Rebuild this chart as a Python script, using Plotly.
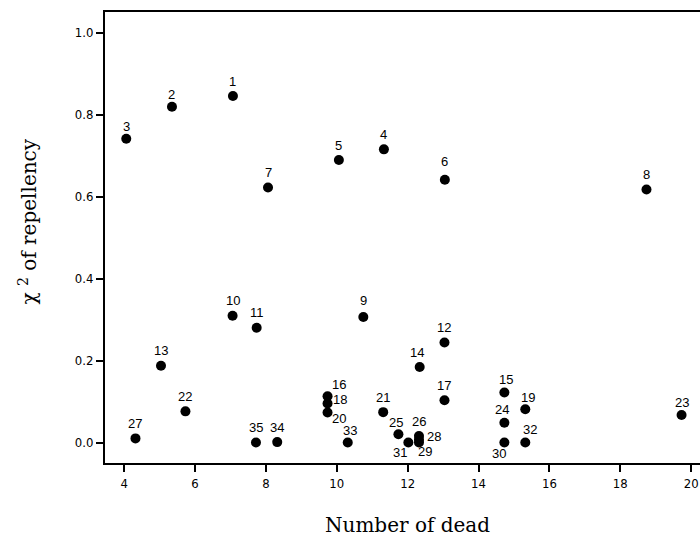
import plotly.graph_objects as go

# Data
point_ids = [str(i) for i in range(1, 36)]
number_of_dead = [7.07, 5.35, 4.06, 11.33, 10.06, 13.05, 8.06, 18.74, 10.75, 7.06,
                  7.74, 13.04, 5.04, 12.34, 14.73, 9.74, 13.04, 9.74, 15.32, 9.74,
                  11.31, 5.73, 19.73, 14.73, 11.74, 12.32, 4.32, 12.32, 12.32, 14.73,
                  12.02, 15.32, 10.31, 8.32, 7.72]
chi2_repellency = [0.845, 0.819, 0.741, 0.715, 0.689, 0.641, 0.622, 0.617, 0.306, 0.309,
                   0.280, 0.244, 0.187, 0.184, 0.122, 0.113, 0.103, 0.095, 0.081, 0.073,
                   0.074, 0.076, 0.067, 0.048, 0.020, 0.016, 0.010, 0.007, 0.000, 0.000,
                   0.000, 0.000, 0.000, 0.001, 0.000]
x_ticks = [4, 6, 8, 10, 12, 14, 16, 18, 20]
y_ticks = [0.0, 0.2, 0.4, 0.6, 0.8, 1.0]

# label placement styles (pixel offsets: xshift, yshift, xanchor)
default_offset = (0, 15, "center")
label_offsets = {
    "2": (0, 12, "center"),
    "3": (0, 12, "center"),
    "16": (2, 12, "left"),
    "18": (3, 4, "left"),
    "20": (2, -6, "left"),
    "33": (2, 12, "center"),
    "25": (-2, 12, "center"),
    "26": (0, 14, "center"),
    "28": (6, 3, "left"),
    "31": (-8, -10, "center"),
    "29": (6, -9, "center"),
    "30": (-5, -11, "center"),
    "24": (-2, 13, "center"),
    "15": (2, 13, "center"),
    "19": (3, 12, "center"),
    "32": (5, 13, "center"),
    "14": (-3, 15, "center"),
    "6": (0, 18, "center"),
    "9": (0, 17, "center"),
    "23": (0, 13, "center"),
}

fig = go.Figure()
fig.add_trace(go.Scatter(
    x=number_of_dead, y=chi2_repellency, mode="markers",
    marker=dict(color="black", size=10),
    hoverinfo="text", text=point_ids, showlegend=False,
))

annotations = []
for pid, xv, yv in zip(point_ids, number_of_dead, chi2_repellency):
    dx, dy, anchor = label_offsets.get(pid, default_offset)
    annotations.append(dict(
        x=xv, y=yv, xref="x", yref="y", text=pid, showarrow=False,
        xshift=dx, yshift=dy, xanchor=anchor, yanchor="middle",
        font=dict(family="Liberation Sans, Arial, sans-serif", size=13, color="black"),
    ))

title_font = dict(family="DejaVu Serif, Century Schoolbook, serif", size=20, color="black")
annotations.append(dict(
    x=0.508, y=-0.138, xref="paper", yref="paper", text="Number of dead",
    showarrow=False, xanchor="center", yanchor="middle", font=title_font,
))
annotations.append(dict(
    x=-0.129, y=0.536, xref="paper", yref="paper", text="χ <sup>2</sup> of repellency",
    showarrow=False, xanchor="center", yanchor="middle", textangle=-90, font=title_font,
))

tick_font = dict(family="Liberation Sans Narrow, DejaVu Sans Condensed, Arial Narrow, sans-serif",
                 size=13, color="black")

fig.update_layout(
    width=700, height=537,
    margin=dict(l=105, r=0, t=12, b=74),
    plot_bgcolor="white", paper_bgcolor="white",
    annotations=annotations,
    xaxis=dict(
        range=[3.46, 20.25], tickvals=x_ticks, ticktext=[str(v) for v in x_ticks],
        showgrid=False, zeroline=False, showline=True, linecolor="black", linewidth=2,
        mirror=True, ticks="outside", ticklen=7, tickwidth=1.5, tickcolor="black",
        tickfont=tick_font, automargin=False,
    ),
    yaxis=dict(
        range=[-0.05, 1.05], tickvals=y_ticks, ticktext=[f"{v:.1f}" for v in y_ticks],
        showgrid=False, zeroline=False, showline=True, linecolor="black", linewidth=2,
        ticks="outside", ticklen=7, tickwidth=1.5, tickcolor="black",
        tickfont=tick_font, automargin=False,
    ),
)

fig.write_html("out.html", config={"displayModeBar": False},
               post_script="document.body.style.margin='0px';")
